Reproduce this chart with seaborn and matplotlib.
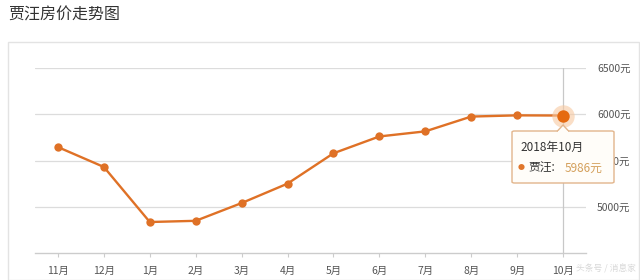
import matplotlib
matplotlib.use("Agg")
import matplotlib.pyplot as plt
import seaborn as sns
import pandas as pd
from matplotlib.patches import Rectangle, FancyBboxPatch, Polygon

months = ['11月', '12月', '1月', '2月', '3月', '4月', '5月', '6月', '7月', '8月', '9月', '10月']
prices = [5645, 5430, 4835, 4848, 5040, 5250, 5578, 5760, 5815, 5975, 5988, 5986]
yticks = [5000, 5500, 6000, 6500]
ytick_labels = ['5000元', '5500元', '6000元', '6500元']
title = '贾汪房价走势图'
series_name = '贾汪'
tooltip_title = '2018年10月'

sns.set_theme(style="white")
plt.rcParams['font.family'] = ['Noto Sans CJK SC', 'DejaVu Sans']

W, H = 640, 280
fig = plt.figure(figsize=(W / 100, H / 100), dpi=100)

def fx(px):
    return px / W

def fy(py):
    return 1 - py / H

# outer panel border
fig.patches.append(Rectangle((fx(7.5), fy(279.5)), fx(631), fy(42) - fy(279.5),
                             transform=fig.transFigure, fill=False,
                             edgecolor='#e3e3e3', linewidth=1.0))
fig.text(fx(8), fy(15), title, fontsize=11.5, color='#333333', va='center', ha='left')

ax = fig.add_axes([fx(35), fy(253), fx(586) - fx(35), fy(68) - fy(253)])
df = pd.DataFrame({'month': months, 'price': prices})
df['idx'] = range(len(df))

line_color = '#df7126'
for y in yticks:
    ax.axhline(y, color='#dcdcdc', linewidth=0.9, zorder=0)

last = len(df) - 1
ax.axvline(last, color='#c8c8c8', linewidth=0.9, zorder=1, ymax=1.0)

sns.lineplot(data=df, x='idx', y='price', ax=ax, color=line_color, linewidth=1.7,
             marker='o', markersize=6, markeredgewidth=0, zorder=3)

# highlighted last point with halo
ax.scatter([last], [df['price'].iloc[-1]], s=260, color='#f7c9a0', alpha=0.6, zorder=4, linewidths=0)
ax.scatter([last], [df['price'].iloc[-1]], s=80, color='#e56a10', zorder=5, linewidths=0)

ax.set_xlim(-0.5, len(df) - 0.5)
ax.set_ylim(4500, 6500)
ax.set_xticks(df['idx'])
ax.set_xticklabels(months, fontsize=7.5, color='#555555')
ax.yaxis.tick_right()
ax.set_yticks(yticks)
ax.set_yticklabels(ytick_labels, fontsize=7.5, color='#555555')
ax.tick_params(axis='y', length=0, pad=8)
ax.tick_params(axis='x', length=3, color='#cccccc', width=0.8, pad=6, bottom=True)
for s in ['top', 'left', 'right']:
    ax.spines[s].set_visible(False)
ax.spines['bottom'].set_color('#cccccc')
ax.spines['bottom'].set_linewidth(1.0)
ax.set_xlabel('')
ax.set_ylabel('')
ax.grid(False)

# tooltip
bx0, by0, bx1, by1 = 512, 131, 614, 183
fig.patches.append(FancyBboxPatch((fx(bx0), fy(by1)), fx(bx1) - fx(bx0), fy(by0) - fy(by1),
                                  boxstyle='round,pad=0,rounding_size=0.004',
                                  transform=fig.transFigure, facecolor='#fffdf9',
                                  edgecolor='#e2b58c', linewidth=1.0, zorder=10))
fig.patches.append(Polygon([(fx(557), fy(131.5)), (fx(563), fy(125)), (fx(569), fy(131.5))],
                           closed=False, transform=fig.transFigure, facecolor='#fffdf9',
                           edgecolor='#e2b58c', linewidth=1.0, zorder=11))
fig.patches.append(Rectangle((fx(557.8), fy(132.5)), fx(10.4), fy(130.5) - fy(132.5),
                             transform=fig.transFigure, facecolor='#fffdf9',
                             edgecolor='none', zorder=12))
fig.text(fx(520), fy(147), tooltip_title, fontsize=8.5, color='#333333', va='center', ha='left', zorder=13)
fig.text(fx(518), fy(168), '●', fontsize=5, color='#e0762c', va='center', ha='left', zorder=13)
fig.text(fx(528), fy(168), series_name + ':', fontsize=8.5, color='#333333', va='center', ha='left', zorder=13)
fig.text(fx(565), fy(168), f"{df['price'].iloc[-1]}元", fontsize=8.5, color='#d4a05c',
         va='center', ha='left', zorder=13)

# watermark
fig.text(fx(636), fy(269), '头条号 / 消息家', fontsize=6.3, color='#d8d8d8', va='center', ha='right')

fig.savefig('out.png', dpi=100)
